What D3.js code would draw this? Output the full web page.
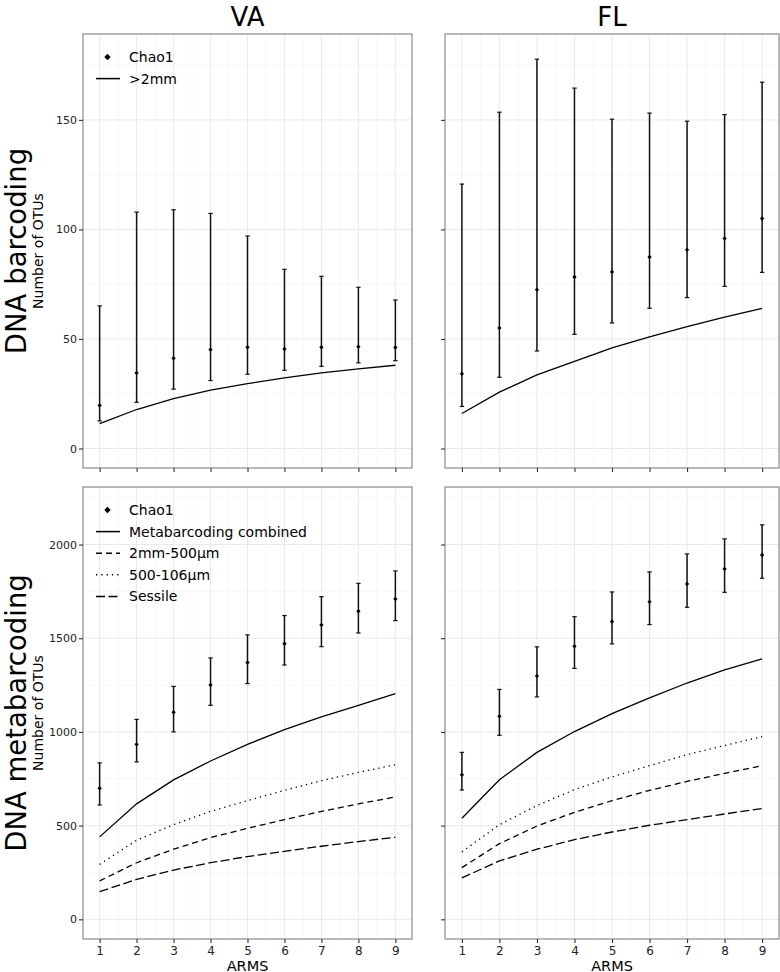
<!DOCTYPE html>
<html><head><meta charset="utf-8">
<script src="https://cdn.jsdelivr.net/npm/d3@7"></script>
<style>body{margin:0;background:#fff;} svg{display:block;font-family:"DejaVu Sans",sans-serif;}</style>
</head><body>
<script>
const arms = [1,2,3,4,5,6,7,8,9];
const xTicks = [1,2,3,4,5,6,7,8,9];
const yTicksBar = [0,50,100,150];
const yTicksMeta = [0,500,1000,1500,2000];
const sites = ["VA","FL"];
const rowLabels = ["DNA barcoding","DNA metabarcoding"];

// DNA barcoding, VA
const vaBarChao = [19.7,34.5,41.2,45.1,46.2,45.4,46.2,46.5,46.1];
const vaBarLo   = [12.6,21.1,27.1,31.0,33.9,35.7,37.5,39.1,40.1];
const vaBarHi   = [65.1,107.9,109.0,107.3,97.0,81.8,78.6,73.6,67.8];
const vaBarLine = [11.4,17.8,22.8,26.6,29.6,32.2,34.5,36.3,38.0];
// DNA barcoding, FL
const flBarChao = [34.1,55.0,72.5,78.3,80.6,87.4,90.7,95.9,105.0];
const flBarLo   = [19.2,32.5,44.5,52.1,57.3,64.0,68.9,74.0,80.4];
const flBarHi   = [120.7,153.5,177.7,164.5,150.3,153.1,149.4,152.4,167.2];
const flBarLine = [16.0,25.7,33.6,39.8,45.9,50.9,55.6,60.0,64.0];

// DNA metabarcoding, VA
const vaMetaChao = [699,934,1105,1251,1370,1471,1571,1644,1710];
const vaMetaLo   = [610,840,1000,1142,1258,1357,1455,1528,1594];
const vaMetaHi   = [835,1067,1243,1395,1518,1621,1722,1793,1859];
const vaCombined = [440,616,744,845,934,1012,1080,1142,1204];
const va2mm500   = [205,302,374,436,486,532,576,616,653];
const va500106   = [293,422,505,576,633,688,740,784,825];
const vaSessile  = [148,213,263,302,335,363,390,415,438];
// DNA metabarcoding, FL
const flMetaChao = [771,1083,1299,1457,1589,1694,1790,1870,1944];
const flMetaLo   = [690,982,1187,1339,1470,1573,1665,1745,1820];
const flMetaHi   = [891,1227,1454,1615,1747,1854,1950,2030,2105];
const flCombined = [539,745,891,1002,1098,1182,1261,1331,1390];
const fl2mm500   = [276,404,498,571,633,688,736,779,820];
const fl500106   = [360,505,607,692,760,820,879,928,975];
const flSessile  = [221,312,374,425,466,502,532,562,591];

const W = 780, H = 972;
const svg = d3.select("body").append("svg").attr("width", W).attr("height", H);

const cols = [{x0:83, x1:412}, {x0:445, x1:779}];
const rows = [{y0:34, y1:468, domain:[-8.9,189.2], ticks:yTicksBar, minor:[25,75,125,175]},
              {y0:487, y1:939, domain:[-105,2307], ticks:yTicksMeta, minor:[250,750,1250,1750,2250]}];

const panels = [
  {r:0,c:0, chao:vaBarChao, lo:vaBarLo, hi:vaBarHi, lines:[{v:vaBarLine, dash:null}]},
  {r:0,c:1, chao:flBarChao, lo:flBarLo, hi:flBarHi, lines:[{v:flBarLine, dash:null}]},
  {r:1,c:0, chao:vaMetaChao, lo:vaMetaLo, hi:vaMetaHi, lines:[
     {v:vaCombined, dash:null},{v:va2mm500, dash:"6,4"},{v:va500106, dash:"1.3,4"},{v:vaSessile, dash:"9,3.5"}]},
  {r:1,c:1, chao:flMetaChao, lo:flMetaLo, hi:flMetaHi, lines:[
     {v:flCombined, dash:null},{v:fl2mm500, dash:"6,4"},{v:fl500106, dash:"1.3,4"},{v:flSessile, dash:"9,3.5"}]}
];

const xMinor = [1.5,2.5,3.5,4.5,5.5,6.5,7.5,8.5];

panels.forEach(p => {
  const C = cols[p.c], R = rows[p.r];
  const x = d3.scaleLinear().domain([0.55,9.45]).range([C.x0, C.x1]);
  const y = d3.scaleLinear().domain(R.domain).range([R.y1, R.y0]);
  const g = svg.append("g");
  // grid
  g.selectAll(".gminx").data(xMinor).join("line")
    .attr("x1", d=>x(d)).attr("x2", d=>x(d)).attr("y1", R.y0).attr("y2", R.y1)
    .attr("stroke", "#f2f2f2").attr("stroke-width", 0.6);
  g.selectAll(".gminy").data(R.minor.filter(v=>y(v)>R.y0)).join("line")
    .attr("y1", d=>y(d)).attr("y2", d=>y(d)).attr("x1", C.x0).attr("x2", C.x1)
    .attr("stroke", "#f2f2f2").attr("stroke-width", 0.6);
  g.selectAll(".gmajx").data(xTicks).join("line")
    .attr("x1", d=>x(d)).attr("x2", d=>x(d)).attr("y1", R.y0).attr("y2", R.y1)
    .attr("stroke", "#e8e8e8").attr("stroke-width", 0.9);
  g.selectAll(".gmajy").data(R.ticks).join("line")
    .attr("y1", d=>y(d)).attr("y2", d=>y(d)).attr("x1", C.x0).attr("x2", C.x1)
    .attr("stroke", "#e8e8e8").attr("stroke-width", 0.9);

  // lines
  p.lines.forEach(L => {
    const line = d3.line().x((d,i)=>x(arms[i])).y(d=>y(d));
    g.append("path").datum(L.v).attr("d", line).attr("fill","none")
      .attr("stroke","#000").attr("stroke-width",1.3)
      .attr("stroke-dasharray", L.dash);
  });

  // error bars
  arms.forEach((a,i) => {
    const cx = x(a);
    g.append("line").attr("x1",cx).attr("x2",cx).attr("y1",y(p.lo[i])).attr("y2",y(p.hi[i]))
      .attr("stroke","#111").attr("stroke-width",1.5);
    [p.lo[i], p.hi[i]].forEach(v => {
      g.append("line").attr("x1",cx-2.2).attr("x2",cx+2.2).attr("y1",y(v)).attr("y2",y(v))
        .attr("stroke","#111").attr("stroke-width",1.2);
    });
    g.append("path").attr("d", d3.symbol(d3.symbolDiamond2, 12)())
      .attr("transform", `translate(${cx},${y(p.chao[i])})`).attr("fill","#000");
  });

  // border
  g.append("rect").attr("x",C.x0).attr("y",R.y0).attr("width",C.x1-C.x0).attr("height",R.y1-R.y0)
    .attr("fill","none").attr("stroke","#808080").attr("stroke-width",1.1);

  // axes ticks
  const ax = g.append("g").attr("transform", `translate(0,${R.y1})`)
    .call(d3.axisBottom(x).tickValues(xTicks).tickSize(4).tickPadding(3).tickFormat(p.r===1 ? d3.format("d") : ""));
  ax.select(".domain").remove();
  ax.selectAll(".tick line").attr("stroke","#333").attr("stroke-width",1.1);
  ax.selectAll(".tick text").attr("fill","#222").attr("font-size",12).attr("font-family","DejaVu Sans");

  const ay = g.append("g").attr("transform", `translate(${C.x0},0)`)
    .call(d3.axisLeft(y).tickValues(R.ticks).tickSize(4).tickPadding(2).tickFormat(p.c===0 ? d3.format("d") : ""));
  ay.select(".domain").remove();
  ay.selectAll(".tick line").attr("stroke","#333").attr("stroke-width",1.1);
  ay.selectAll(".tick text").attr("fill","#222").attr("font-size",11).attr("font-family","DejaVu Sans");
});

// column titles
sites.forEach((s,i) => {
  svg.append("text").attr("x",(cols[i].x0+cols[i].x1)/2).attr("y",26)
    .attr("text-anchor","middle").attr("font-size",26).attr("fill","#000").text(s);
  svg.append("text").attr("x",(cols[i].x0+cols[i].x1)/2).attr("y",970.5)
    .attr("text-anchor","middle").attr("font-size",14.5).attr("fill","#000").text("ARMS");
});

// row labels
rowLabels.forEach((s,i) => {
  const cy = (rows[i].y0+rows[i].y1)/2;
  svg.append("text").attr("transform",`translate(26,${cy}) rotate(-90)`)
    .attr("text-anchor","middle").attr("font-size",27.5).attr("fill","#000").text(s);
  svg.append("text").attr("transform",`translate(43,${cy}) rotate(-90)`)
    .attr("text-anchor","middle").attr("font-size",14).attr("fill","#000").text("Number of OTUs");
});

// legends
function legend(x0, y0, items) {
  const g = svg.append("g");
  items.forEach((it,i) => {
    const yy = y0 + i*21.6;
    if (it.type === "point") {
      g.append("path").attr("d", d3.symbol(d3.symbolDiamond2, 26)())
        .attr("transform",`translate(${x0+10.5},${yy})`).attr("fill","#000");
    } else {
      g.append("line").attr("x1",x0-1).attr("x2",x0+23).attr("y1",yy).attr("y2",yy)
        .attr("stroke","#000").attr("stroke-width",1.5).attr("stroke-dasharray", it.dash);
    }
    g.append("text").attr("x",x0+32).attr("y",yy+5).attr("font-size",14).attr("fill","#000").text(it.label);
  });
}
legend(97, 57, [{type:"point",label:"Chao1"},{type:"line",label:">2mm",dash:null}]);
legend(97, 510, [
  {type:"point",label:"Chao1"},
  {type:"line",label:"Metabarcoding combined",dash:null},
  {type:"line",label:"2mm-500μm",dash:"6,4"},
  {type:"line",label:"500-106μm",dash:"1.3,4"},
  {type:"line",label:"Sessile",dash:"9,3.5"}
]);
</script>
</body></html>
